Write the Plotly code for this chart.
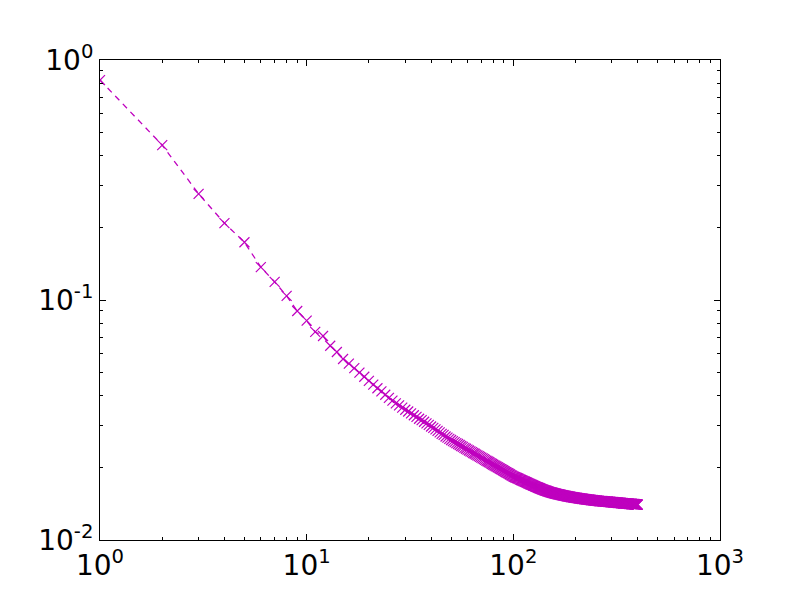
"""
Log-log decay curve (matplotlib classic look) rebuilt with plotly.
"""
import plotly.graph_objects as go

steps = list(range(1, 401))

values = [
    0.825, 0.442, 0.277, 0.209, 0.174, 0.137, 0.119, 0.104, 0.090, 0.082,
    0.0736, 0.0708, 0.0645, 0.0607, 0.0568, 0.0543, 0.0520, 0.0498, 0.0479, 0.0460,
    0.0444, 0.0429, 0.0416, 0.0403, 0.0391, 0.0381, 0.0371, 0.0364, 0.0356, 0.0349,
    0.0343, 0.0337, 0.0331, 0.0326, 0.0320, 0.0316, 0.0311, 0.0306, 0.0302, 0.0297,
    0.0293, 0.0289, 0.0285, 0.0281, 0.0277, 0.0274, 0.0270, 0.0267, 0.0264, 0.0261,
    0.02584, 0.02559, 0.02534, 0.02511, 0.02488, 0.02465, 0.02443, 0.02422, 0.02401, 0.02381,
    0.02361, 0.02342, 0.02323, 0.02305, 0.02287, 0.02269, 0.02252, 0.02235, 0.02219, 0.02203,
    0.02187, 0.02172, 0.02157, 0.02142, 0.02128, 0.02113, 0.02100, 0.02086, 0.02073, 0.02059,
    0.02047, 0.02034, 0.02022, 0.02009, 0.01997, 0.01986, 0.01974, 0.01963, 0.01952, 0.01941,
    0.01930, 0.01919, 0.01909, 0.01899, 0.01889, 0.01879, 0.01869, 0.01859, 0.01850, 0.01840,
    0.01833, 0.01826, 0.01820, 0.01813, 0.01806, 0.01799, 0.01792, 0.01786, 0.01779, 0.01772,
    0.01766, 0.01760, 0.01754, 0.01748, 0.01742, 0.01736, 0.01730, 0.01724, 0.01718, 0.01712,
    0.01707, 0.01702, 0.01696, 0.01691, 0.01686, 0.01681, 0.01676, 0.01670, 0.01665, 0.01660,
    0.01656, 0.01651, 0.01647, 0.01643, 0.01639, 0.01634, 0.01630, 0.01626, 0.01621, 0.01617,
    0.01614, 0.01610, 0.01607, 0.01604, 0.01601, 0.01597, 0.01594, 0.01591, 0.01587, 0.01584,
    0.01582, 0.01579, 0.01577, 0.01574, 0.01572, 0.01570, 0.01567, 0.01565, 0.01562, 0.01560,
    0.01558, 0.01556, 0.01554, 0.01552, 0.01550, 0.01549, 0.01547, 0.01545, 0.01543, 0.01541,
    0.01539, 0.01538, 0.01536, 0.01535, 0.01533, 0.01531, 0.01530, 0.01528, 0.01527, 0.01525,
    0.01524, 0.01522, 0.01521, 0.01519, 0.01518, 0.01517, 0.01515, 0.01514, 0.01512, 0.01511,
    0.01510, 0.01509, 0.01508, 0.01507, 0.01505, 0.01504, 0.01503, 0.01502, 0.01501, 0.01500,
    0.01499, 0.01498, 0.01497, 0.01496, 0.01495, 0.01494, 0.01493, 0.01492, 0.01491, 0.01490,
    0.01489, 0.01488, 0.01487, 0.01486, 0.01485, 0.01485, 0.01484, 0.01483, 0.01482, 0.01481,
    0.01480, 0.01480, 0.01479, 0.01478, 0.01477, 0.01477, 0.01476, 0.01475, 0.01474, 0.01474,
    0.01473, 0.01472, 0.01471, 0.01471, 0.01470, 0.01469, 0.01468, 0.01468, 0.01467, 0.01466,
    0.01465, 0.01465, 0.01464, 0.01464, 0.01463, 0.01462, 0.01462, 0.01461, 0.01461, 0.01460,
    0.01459, 0.01459, 0.01458, 0.01458, 0.01457, 0.01456, 0.01456, 0.01455, 0.01455, 0.01454,
    0.01454, 0.01453, 0.01453, 0.01452, 0.01452, 0.01452, 0.01451, 0.01451, 0.01450, 0.01450,
    0.01450, 0.01449, 0.01449, 0.01448, 0.01448, 0.01448, 0.01447, 0.01447, 0.01446, 0.01446,
    0.01446, 0.01445, 0.01445, 0.01444, 0.01444, 0.01444, 0.01443, 0.01443, 0.01442, 0.01442,
    0.01442, 0.01441, 0.01441, 0.01440, 0.01440, 0.01440, 0.01439, 0.01439, 0.01438, 0.01438,
    0.01438, 0.01437, 0.01437, 0.01436, 0.01436, 0.01436, 0.01435, 0.01435, 0.01434, 0.01434,
    0.01434, 0.01433, 0.01433, 0.01432, 0.01432, 0.01432, 0.01431, 0.01431, 0.01430, 0.01430,
    0.01430, 0.01429, 0.01429, 0.01428, 0.01428, 0.01428, 0.01427, 0.01427, 0.01427, 0.01426,
    0.01426, 0.01426, 0.01425, 0.01425, 0.01424, 0.01424, 0.01424, 0.01423, 0.01423, 0.01423,
    0.01422, 0.01422, 0.01422, 0.01421, 0.01421, 0.01421, 0.01420, 0.01420, 0.01420, 0.01420,
    0.01419, 0.01419, 0.01419, 0.01418, 0.01418, 0.01418, 0.01417, 0.01417, 0.01417, 0.01417,
    0.01416, 0.01416, 0.01416, 0.01415, 0.01415, 0.01415, 0.01414, 0.01414, 0.01414, 0.01414,
    0.01413, 0.01413, 0.01413, 0.01412, 0.01412, 0.01412, 0.01411, 0.01411, 0.01411, 0.01411,
    0.01410, 0.01410, 0.01410, 0.01409, 0.01409, 0.01409, 0.01409, 0.01408, 0.01408, 0.01408,
    0.01407, 0.01407, 0.01407, 0.01407, 0.01406, 0.01406, 0.01406, 0.01406, 0.01405, 0.01405,
]

x_ticks = [1, 10, 100, 1000]
x_labels = ["10<sup>0</sup>", "10<sup>1</sup>", "10<sup>2</sup>", "10<sup>3</sup>"]
y_ticks = [0.01, 0.1, 1]
y_labels = ["10<sup>-2</sup>", "10<sup>-1</sup>", "10<sup>0</sup>"]

x_minor = [m * d for d in (1, 10, 100) for m in range(2, 10)]
y_minor = [m * d for d in (0.01, 0.1) for m in range(2, 10)]

MAGENTA = "#bf00bf"

fig = go.Figure()
fig.add_trace(go.Scatter(
    x=steps,
    y=values,
    mode="lines+markers",
    line=dict(color=MAGENTA, width=1.3, dash="6px,5px"),
    marker=dict(symbol="x-thin", size=10, line=dict(color=MAGENTA, width=1.2)),
    showlegend=False,
))

axis_common = dict(
    type="log",
    automargin=False,
    showgrid=False,
    zeroline=False,
    showline=True,
    linecolor="black",
    linewidth=1,
    mirror="ticks",
    ticks="inside",
    ticklen=6,
    tickwidth=1,
    tickcolor="black",
    tickfont=dict(family="DejaVu Sans", size=28, color="black"),
)

fig.update_xaxes(
    range=[0, 3],
    tickvals=x_ticks,
    ticktext=x_labels,
    minor=dict(tickvals=x_minor, ticks="inside", ticklen=3, tickcolor="black", showgrid=False),
    **axis_common,
)
fig.update_yaxes(
    range=[-2, 0],
    tickvals=y_ticks,
    ticktext=y_labels,
    minor=dict(tickvals=y_minor, ticks="inside", ticklen=3, tickcolor="black", showgrid=False),
    **axis_common,
)

# page body adds an 8px offset, so margins are trimmed to land the axes box at (100, 60)
fig.update_layout(
    width=800,
    height=600,
    margin=dict(l=92, r=88, t=52, b=68),
    plot_bgcolor="white",
    paper_bgcolor="white",
    font=dict(family="DejaVu Sans", color="black"),
)

fig.write_html("out.html")
